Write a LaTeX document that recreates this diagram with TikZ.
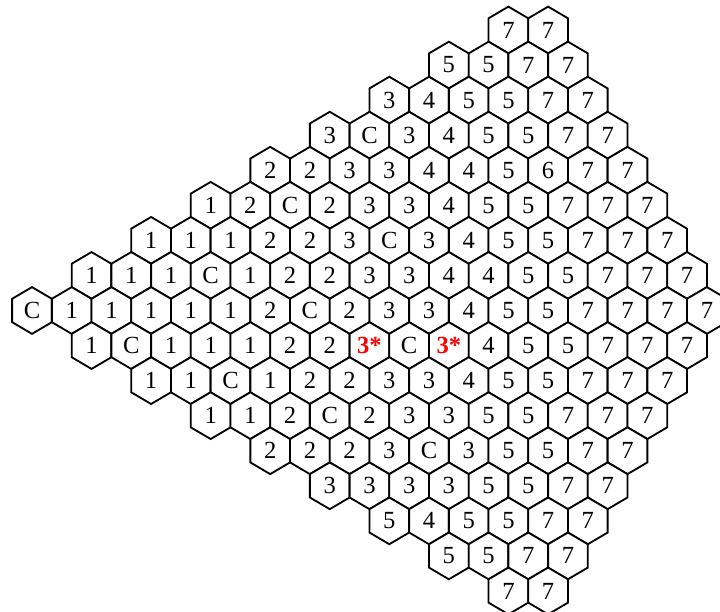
\documentclass[tikz,border=0pt]{standalone}
\usepackage{fontspec}
\setmainfont{Liberation Serif}

\newcommand{\hotcell}{\textcolor{red}{\textbf{3*}}}

\tikzset{
  hexcell/.style={draw=black, line width=1.3pt, fill=white},
  cellnum/.style={font=\fontsize{17.5}{19}\selectfont, inner sep=0pt}
}

\begin{document}
\begin{tikzpicture}[x=0.025cm, y=-0.025cm]
  \clip (0,0) rectangle (720,611);
  \def\w{39.7}
  \def\h{35.06}
  % one row of the board per entry, top to bottom
  \foreach \r/\cells in {
      0/{7,7},
      1/{5,5,7,7},
      2/{3,4,5,5,7,7},
      3/{3,C,3,4,5,5,7,7},
      4/{2,2,3,3,4,4,5,6,7,7},
      5/{1,2,C,2,3,3,4,5,5,7,7,7},
      6/{1,1,1,2,2,3,C,3,4,5,5,7,7,7},
      7/{1,1,1,C,1,2,2,3,3,4,4,5,5,7,7,7},
      8/{C,1,1,1,1,1,2,C,2,3,3,4,5,5,7,7,7,7},
      9/{1,C,1,1,1,2,2,\hotcell,C,\hotcell,4,5,5,7,7,7},
      10/{1,1,C,1,2,2,3,3,4,5,5,7,7,7},
      11/{1,1,2,C,2,3,3,5,5,7,7,7},
      12/{2,2,2,3,C,3,5,5,7,7},
      13/{3,3,3,3,5,5,7,7},
      14/{5,4,5,5,7,7},
      15/{5,5,7,7},
      16/{7,7}} {
    \pgfmathsetmacro{\d}{abs(\r-8)}
    \foreach \c [count=\k from 0] in \cells {
      \pgfmathsetmacro{\cx}{32+1.5*\w*\d+\k*\w}
      \pgfmathsetmacro{\cy}{30+\h*\r}
      \draw[hexcell] (\cx,\cy) ++(0,-2*\h/3) -- ++(\w/2,\h/3) -- ++(0,2*\h/3)
        -- ++(-\w/2,\h/3) -- ++(-\w/2,-\h/3) -- ++(0,-2*\h/3) -- cycle;
      \node[cellnum] (c\r-\k) at (\cx,\cy) {\c};
    }
  }
\end{tikzpicture}
\end{document}
